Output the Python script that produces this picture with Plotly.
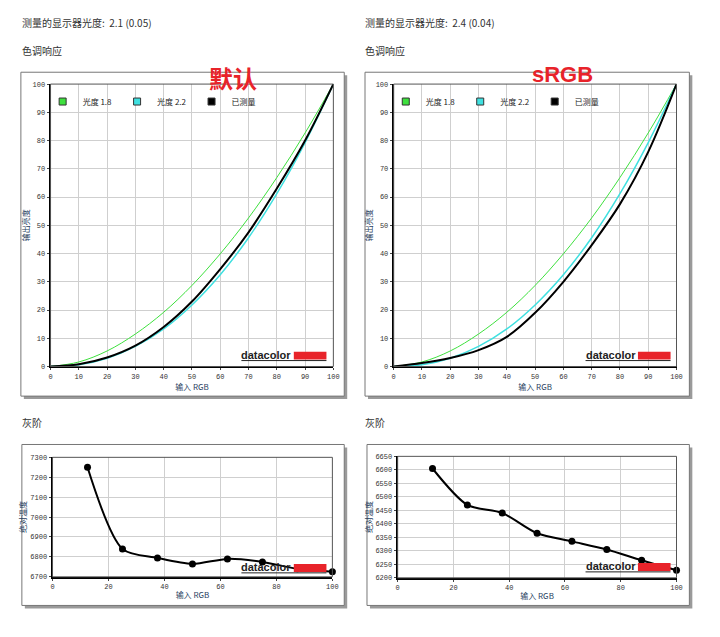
import plotly.graph_objects as go

W, H = 720, 637

# 色调响应 data (输入 RGB vs 输出亮度)
rgb_in = [0, 10, 20, 30, 40, 50, 60, 70, 80, 90, 100]
gamma18 = [0, 1.6, 5.5, 11.5, 19.2, 28.7, 39.9, 52.6, 66.9, 82.7, 100]
gamma22 = [0, 0.6, 2.9, 7.1, 13.3, 21.8, 32.5, 45.6, 61.2, 79.3, 100]
meas_default = [0, 0.8, 3.2, 7.4, 14.0, 23.0, 34.5, 47.5, 63.0, 80.0, 100]
meas_srgb = [0, 1.2, 3.0, 5.8, 10.5, 19.0, 30.0, 43.0, 57.5, 76.0, 100]

# 灰阶 data (输入 RGB vs 绝对温度)
gray_in = [12.5, 25, 37.5, 50, 62.5, 75, 87.5, 100]
cct_default = [7250, 6840, 6795, 6765, 6790, 6775, 6740, 6725]
cct_srgb = [6605, 6470, 6440, 6365, 6335, 6305, 6265, 6228]

FONT = "Noto Sans CJK SC"
TICKF = dict(family="Liberation Mono, monospace", size=7, color="#333")
OFF = 9  # page offset of the plot div


def px(x):
    return (x - OFF) / W


def py(y):
    return 1 - (y - OFF) / H


fig = go.Figure()

# panel plot areas in pixels: (x0, x1, ytop, ybottom)
panels = [
    (50, 336, 82, 368),
    (397, 683, 82, 368),
    (52, 335, 460, 581),
    (401, 683, 459, 582),
]
frames = [(20, 347, 70, 398), (368, 696, 70, 398), (21, 347, 447, 610), (370, 696, 447, 610)]

shapes = []
for (x0, x1, y0, y1) in frames:
    shapes.append(dict(type="rect", xref="paper", yref="paper", x0=px(x0 + 3), x1=px(x1 + 3),
                       y0=py(y1 + 3), y1=py(y0 + 3), line=dict(width=0), fillcolor="#9a9a9a", layer="below"))
    shapes.append(dict(type="rect", xref="paper", yref="paper", x0=px(x0), x1=px(x1),
                       y0=py(y1), y1=py(y0), line=dict(color="#777", width=1), fillcolor="white", layer="below"))

yranges = [(0, 100, 10), (0, 100, 10), (6700, 7300, 100), (6200, 6650, 50)]
ytitles = ["输出亮度", "输出亮度", "绝对温度", "绝对温度"]
lay = {}
for i, ((x0, x1, yt, yb), (ylo, yhi, dt)) in enumerate(zip(panels, yranges)):
    n = "" if i == 0 else str(i + 1)
    lay["xaxis" + n] = dict(domain=[px(x0), px(x1)], anchor="y" + n, range=[0, 100], dtick=10 if i < 2 else 20,
                            showgrid=True, gridcolor="#cfcfcf", showline=True, linecolor="black", linewidth=2,
                            mirror=False, ticks="outside", ticklen=2, tickfont=TICKF, zeroline=False,
                            title=dict(text="输入 RGB", font=dict(family=FONT, size=8), standoff=2))
    lay["yaxis" + n] = dict(domain=[py(yb), py(yt)], anchor="x" + n, range=[ylo, yhi], dtick=dt,
                            showgrid=True, gridcolor="#cfcfcf", showline=True, linecolor="black", linewidth=2,
                            ticks="outside", ticklen=2, tickfont=TICKF, zeroline=False,
                            title=dict(text=ytitles[i], font=dict(family=FONT, size=8), standoff=2))
    shapes.append(dict(type="rect", xref="paper", yref="paper", x0=px(x0), x1=px(x1), y0=py(yb), y1=py(yt),
                       line=dict(color="#555", width=1), layer="above"))

for i, meas in enumerate([meas_default, meas_srgb]):
    xa, ya = ("x", "y") if i == 0 else ("x2", "y2")
    lg = "legend" if i == 0 else "legend2"
    for name, ys, col, wd in [("光度 1.8", gamma18, "#3ee03e", 1), ("光度 2.2", gamma22, "#3fe0e0", 1.5),
                              ("已测量", meas, "black", 2)]:
        fig.add_trace(go.Scatter(x=rgb_in, y=ys, xaxis=xa, yaxis=ya, mode="lines", showlegend=False,
                                 line=dict(color=col, width=wd, shape="spline")))
        # legend swatch
        fig.add_trace(go.Scatter(x=[None], y=[None], xaxis=xa, yaxis=ya, mode="markers", name=name, legend=lg,
                                 marker=dict(symbol="square", size=7, color=col, line=dict(color="#333", width=1))))

for i, cct in enumerate([cct_default, cct_srgb]):
    xa, ya = ("x3", "y3") if i == 0 else ("x4", "y4")
    fig.add_trace(go.Scatter(x=gray_in, y=cct, xaxis=xa, yaxis=ya, mode="lines+markers", showlegend=False,
                             line=dict(color="black", width=2, shape="spline", smoothing=0.8),
                             marker=dict(color="black", size=7), cliponaxis=False))

leg = dict(orientation="h", font=dict(family=FONT, size=8, color="#222"), bgcolor="rgba(0,0,0,0)",
           itemwidth=30, xanchor="left", yanchor="top", tracegroupgap=0)
lay["legend"] = dict(leg, x=px(42), y=py(85))
lay["legend2"] = dict(leg, x=px(389), y=py(85))

annotations = [
    dict(text="测量的显示器光度:  2.1 (0.05)", x=px(19), y=py(20)),
    dict(text="测量的显示器光度:  2.4 (0.04)", x=px(366), y=py(20)),
    dict(text="色调响应", x=px(19), y=py(48)),
    dict(text="色调响应", x=px(366), y=py(48)),
    dict(text="灰阶", x=px(19), y=py(425)),
    dict(text="灰阶", x=px(366), y=py(425)),
]
annotations = [dict(a, xref="paper", yref="paper", xanchor="left", yanchor="middle", showarrow=False,
                    font=dict(family=FONT, size=10, color="#333")) for a in annotations]
annotations.append(dict(text="<b>默认</b>", x=px(208), y=py(56), xref="paper", yref="paper", showarrow=False,
                        font=dict(family=FONT, size=24, color="#e8232a")))
annotations.append(dict(text="<b>sRGB</b>", x=px(601), y=py(58), xref="paper", yref="paper", showarrow=False,
                        font=dict(family="Liberation Sans", size=22, color="#e8232a")))

# datacolor logos (x_left of text, y centre)
for (lx, ly) in [(243, 356), (591, 356), (243, 571), (591, 570)]:
    annotations.append(dict(text="<b>datacolor</b>", x=px(lx - 2), y=py(ly), xref="paper", yref="paper", showarrow=False,
                            xanchor="left", yanchor="middle", font=dict(family="Liberation Sans", size=11, color="#222")))
    shapes.append(dict(type="rect", xref="paper", yref="paper", x0=px(lx + 53), x1=px(lx + 86),
                       y0=py(ly + 5), y1=py(ly - 3), fillcolor="#e8232a", line=dict(width=0)))
    shapes.append(dict(type="line", xref="paper", yref="paper", x0=px(lx), x1=px(lx + 86),
                       y0=py(ly + 6), y1=py(ly + 6), line=dict(color="#222", width=1)))

fig.update_layout(width=W, height=H, margin=dict(l=0, r=0, t=0, b=0), plot_bgcolor="white",
                  paper_bgcolor="white", shapes=shapes, annotations=annotations, **lay)

fig.write_html("out.html")
